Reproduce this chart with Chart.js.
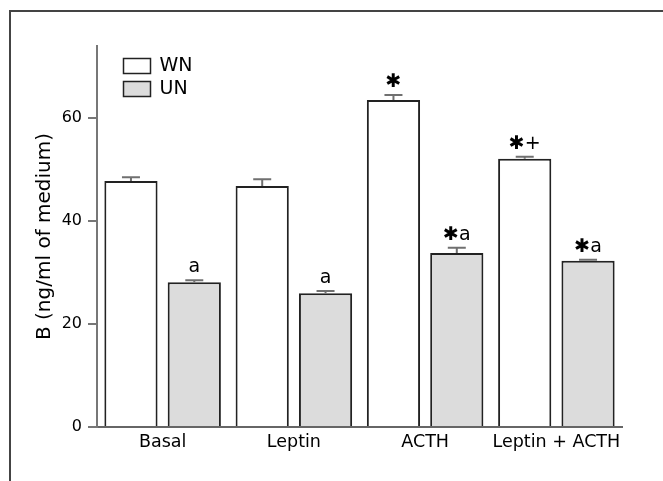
<!DOCTYPE html>
<html>
<head>
<meta charset="utf-8">
<script src="https://cdn.jsdelivr.net/npm/chart.js@4/dist/chart.umd.min.js"></script>
<style>
  html, body { margin: 0; padding: 0; background: #fff; }
  canvas { display: block; }
</style>
</head>
<body>
<canvas id="chart" width="663" height="481"></canvas>
<script>
// values
const categories = ['Basal', 'Leptin', 'ACTH', 'Leptin + ACTH'];
const wnValues = [47.8, 46.8, 63.5, 52.1];
const wnErrors = [0.7, 1.3, 1.0, 0.4];
const unValues = [28.1, 26.0, 33.8, 32.3];
const unErrors = [0.4, 0.4, 1.0, 0.2];
const wnMarks = ['', '', '\u2731', '\u2731+'];
const unMarks = ['a', 'a', '\u2731a', '\u2731a'];
const yTicks = [0, 20, 40, 60];

const FONT = '"DejaVu Sans", sans-serif';

// outer frame: top and left edges only
const framePlugin = {
  id: 'frame',
  beforeDraw( chart ) {
    const ctx = chart.ctx;
    ctx.save();
    ctx.strokeStyle = '#444';
    ctx.lineWidth = 2;
    ctx.beginPath();
    ctx.moveTo( 10, 481 );
    ctx.lineTo( 10, 11 );
    ctx.lineTo( 663, 11 );
    ctx.stroke();
    ctx.restore();
  }
};

// upward error bars + significance marks
const errorPlugin = {
  id: 'errors',
  afterDatasetsDraw( chart ) {
    const ctx = chart.ctx;
    const y = chart.scales.y;
    chart.data.datasets.forEach( ( ds, di ) => {
      const meta = chart.getDatasetMeta( di );
      meta.data.forEach( ( bar, i ) => {
        const top = y.getPixelForValue( ds.data[ i ] + ds.errors[ i ] );
        ctx.save();
        ctx.strokeStyle = '#707070';
        ctx.lineWidth = 2;
        ctx.beginPath();
        ctx.moveTo( bar.x, bar.y );
        ctx.lineTo( bar.x, top );
        ctx.moveTo( bar.x - 9, top );
        ctx.lineTo( bar.x + 9, top );
        ctx.stroke();
        const mark = ds.marks[ i ];
        if ( mark ) {
          ctx.fillStyle = '#000';
          ctx.font = '19px ' + FONT;
          ctx.textAlign = 'center';
          ctx.textBaseline = 'alphabetic';
          ctx.fillText( mark, bar.x, top - 8 );
        }
        ctx.restore();
      } );
    } );
  }
};

// legend inside the plot area, top-left
const legendPlugin = {
  id: 'insideLegend',
  afterDraw( chart ) {
    const ctx = chart.ctx;
    const area = chart.chartArea;
    ctx.save();
    chart.data.datasets.forEach( ( ds, i ) => {
      const bx = area.left + 26.5;
      const by = area.top + 12.5 + i * 23;
      ctx.fillStyle = ds.backgroundColor;
      ctx.fillRect( bx, by, 27, 15 );
      ctx.strokeStyle = '#222';
      ctx.lineWidth = 1.5;
      ctx.strokeRect( bx, by, 27, 15 );
      ctx.fillStyle = '#000';
      ctx.font = '19px ' + FONT;
      ctx.textAlign = 'left';
      ctx.textBaseline = 'middle';
      ctx.fillText( ds.label, bx + 36, by + 8 );
    } );
    ctx.restore();
  }
};

new Chart( document.getElementById( 'chart' ), {
  type: 'bar',
  data: {
    labels: categories,
    datasets: [
      {
        label: 'WN',
        data: wnValues,
        errors: wnErrors,
        marks: wnMarks,
        backgroundColor: '#ffffff',
        borderColor: '#222',
        borderWidth: 2
      },
      {
        label: 'UN',
        data: unValues,
        errors: unErrors,
        marks: unMarks,
        backgroundColor: '#dcdcdc',
        borderColor: '#222',
        borderWidth: 2
      }
    ]
  },
  options: {
    responsive: false,
    animation: false,
    devicePixelRatio: 1,
    categoryPercentage: 0.965,
    barPercentage: 0.84,
    layout: { padding: { top: 46, right: 41, left: 0, bottom: 0 } },
    plugins: {
      legend: { display: false },
      tooltip: { enabled: false }
    },
    scales: {
      x: {
        grid: { display: false, drawTicks: false },
        border: { color: '#666', width: 2 },
        ticks: {
          color: '#000',
          font: { family: FONT, size: 17.5 },
          padding: 5,
          autoSkip: false,
          maxRotation: 0,
          minRotation: 0
        },
        afterFit( scale ) { scale.height = 54; }
      },
      y: {
        min: 0,
        max: 74,
        afterBuildTicks( scale ) {
          scale.ticks = yTicks.map( v => ( { value: v } ) );
        },
        grid: { drawOnChartArea: false, tickLength: 9, color: '#777', lineWidth: 2 },
        border: { color: '#777', width: 2 },
        ticks: { color: '#000', font: { family: FONT, size: 16 }, padding: 6 },
        title: {
          display: true,
          text: 'B (ng/ml of medium)',
          color: '#000',
          font: { family: FONT, size: 20 },
          padding: { top: 33, bottom: 0 }
        },
        afterFit( scale ) { scale.width = 97; }
      }
    }
  },
  plugins: [ framePlugin, errorPlugin, legendPlugin ]
} );
</script>
</body>
</html>
